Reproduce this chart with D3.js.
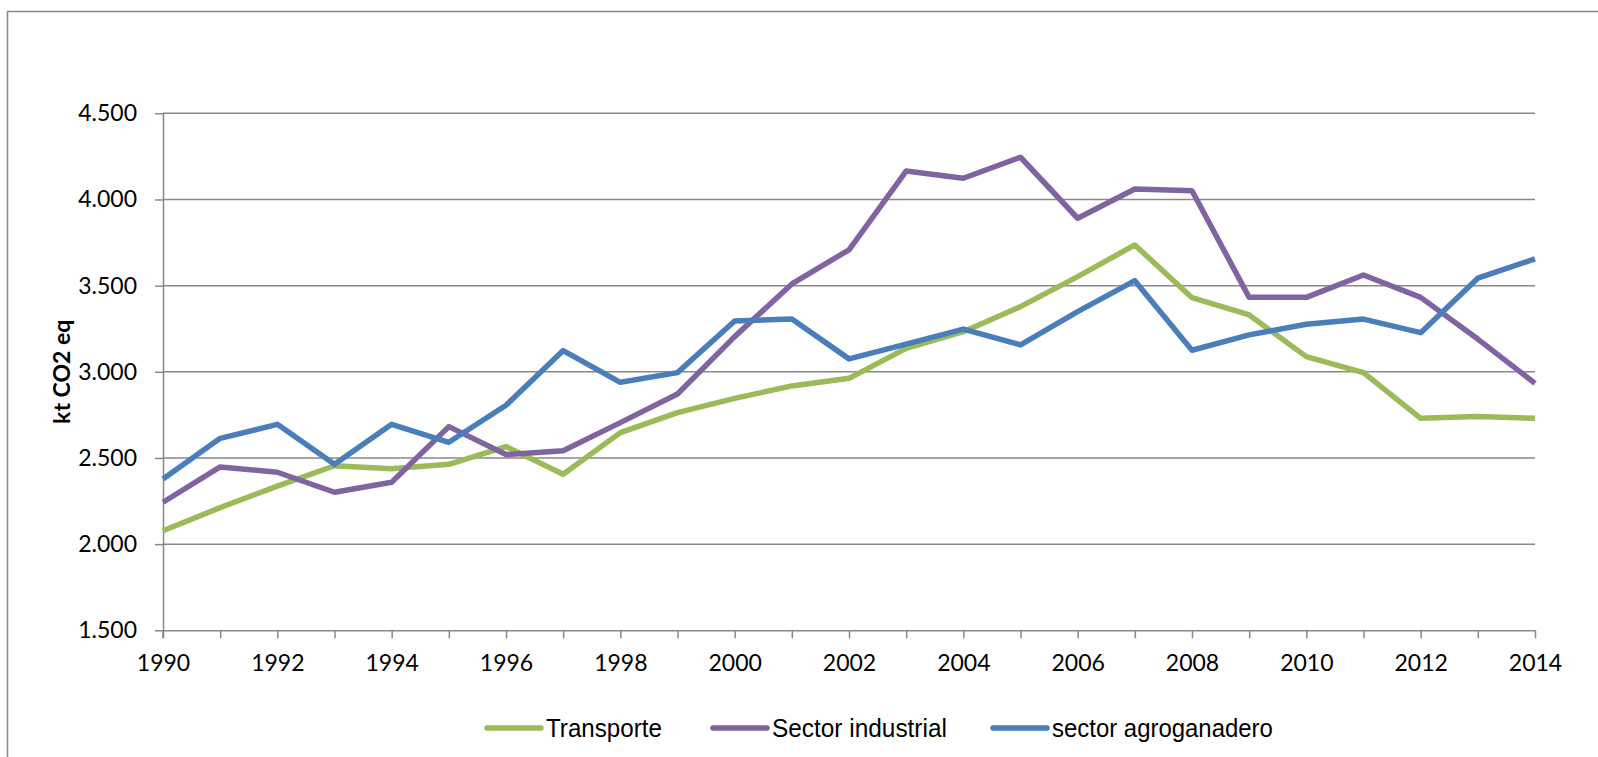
<!DOCTYPE html>
<html lang="es">
<head>
    <meta charset="utf-8">
    <title>D3 - kt CO2 eq</title>
    <style>
        body { margin: 0; background: #fff; }
        svg { display: block; }
    </style>
</head>
<body>

<script src="https://cdn.jsdelivr.net/npm/d3@7/dist/d3.min.js"></script>
<script>
    // datos
    var years = d3.range(1990, 2015);
    var yTicks = [1500, 2000, 2500, 3000, 3500, 4000, 4500];
    var transporte = [2078, 2212, 2337, 2455, 2438, 2463, 2566, 2405, 2647, 2763, 2846, 2918, 2962,
        3136, 3233, 3378, 3552, 3736, 3430, 3330, 3088, 2995, 2730, 2740, 2730];
    var industrial = [2243, 2448, 2417, 2301, 2359, 2682, 2520, 2542, 2705, 2871, 3204, 3510, 3708,
        4165, 4123, 4245, 3891, 4061, 4051, 3432, 3432, 3562, 3432, 3190, 2933];
    var agro = [2378, 2614, 2695, 2463, 2695, 2591, 2806, 3123, 2939, 2995, 3295, 3306, 3075,
        3161, 3248, 3156, 3349, 3529, 3125, 3214, 3276, 3306, 3227, 3543, 3655];
    var seriesNames = ["Transporte", "Sector industrial", "sector agroganadero"];
    var seriesColors = ["#9bbb59", "#8064a2", "#4a7ebb"];

    function main() {
        var width = 1598,
            height = 757;
        var left = 163, right = 1535, top = 113.3, bottom = 630.3;
        var gray = "#898989";

        var svg = d3.select("body").append("svg")
            .attr("width", width)
            .attr("height", height);

        // marco exterior (derecha y abajo quedan fuera)
        svg.append("rect")
            .attr("x", 7.5).attr("y", 11.5)
            .attr("width", width + 20).attr("height", height + 20)
            .attr("fill", "none")
            .attr("stroke", gray)
            .attr("stroke-width", 1.5);

        var x = d3.scaleLinear().domain([1990, 2014]).range([left, right]);
        var y = d3.scaleLinear().domain([1500, 4500]).range([bottom, top]);

        var fmt = d3.formatLocale({decimal: ",", thousands: ".", grouping: [3], currency: ["", ""]})
            .format(",.0f");

        // lineas de division
        svg.append("g").selectAll("line")
            .data(yTicks.slice(1))
            .enter().append("line")
            .attr("x1", left).attr("x2", right)
            .attr("y1", function (d) { return y(d); })
            .attr("y2", function (d) { return y(d); })
            .attr("stroke", gray)
            .attr("stroke-width", 1.5);

        var yAxis = svg.append("g")
            .attr("transform", "translate(" + left + ",0)")
            .call(d3.axisLeft(y).tickValues(yTicks).tickFormat(fmt).tickSize(8).tickSizeOuter(0).tickPadding(18));

        var xAxis = svg.append("g")
            .attr("transform", "translate(0," + bottom + ")")
            .call(d3.axisBottom(x).tickValues(years).tickSize(8).tickSizeOuter(0).tickPadding(16)
                .tickFormat(function (d) { return d % 2 === 0 ? d : ""; }));

        [yAxis, xAxis].forEach(function (g) {
            g.selectAll("path, line").attr("stroke", gray).attr("stroke-width", 1.5);
            g.selectAll("text")
                .attr("fill", "#000")
                .style("font-family", "Lato, 'Open Sans', sans-serif")
                .style("font-size", "23px");
        });
        // eje y baja hasta la marca de 1990
        svg.append("line")
            .attr("x1", left).attr("x2", left)
            .attr("y1", bottom).attr("y2", bottom + 8)
            .attr("stroke", gray).attr("stroke-width", 1.5);

        svg.append("text")
            .attr("transform", "translate(70," + ((top + bottom) / 2) + ") rotate(-90)")
            .attr("text-anchor", "middle")
            .style("font-family", "Lato, sans-serif")
            .style("font-weight", "bold")
            .style("font-size", "23px")
            .text("kt CO2 eq");

        // series
        var line = d3.line()
            .x(function (d, i) { return x(years[i]); })
            .y(function (d) { return y(d); });

        [transporte, industrial, agro].forEach(function (s, i) {
            svg.append("path")
                .datum(s)
                .attr("d", line)
                .attr("fill", "none")
                .attr("stroke", seriesColors[i])
                .attr("stroke-width", 5.5)
                .attr("stroke-linejoin", "round");
        });

        // leyenda: el ancho del texto se ajusta al del original
        var legX = [487, 713, 993];
        var legLen = [116, 175, 221];
        var legY = 728;
        var leg = svg.append("g").selectAll("g")
            .data(seriesNames)
            .enter().append("g");
        leg.append("line")
            .attr("x1", function (d, i) { return legX[i]; })
            .attr("x2", function (d, i) { return legX[i] + 54; })
            .attr("y1", legY).attr("y2", legY)
            .attr("stroke", function (d, i) { return seriesColors[i]; })
            .attr("stroke-width", 5.5)
            .attr("stroke-linecap", "round");
        leg.append("text")
            .attr("dy", "0.35em")
            .style("font-family", "'Liberation Sans Narrow', 'Liberation Sans', sans-serif")
            .style("font-size", "25px")
            .text(function (d) { return d; })
            .attr("transform", function (d, i) {
                var w = this.getComputedTextLength();
                return "translate(" + (legX[i] + 59) + "," + legY + ") scale(" + (legLen[i] / w) + ",1)";
            });
    }

    window.onload = function () {
        main();
    };
</script>
</body>
</html>
